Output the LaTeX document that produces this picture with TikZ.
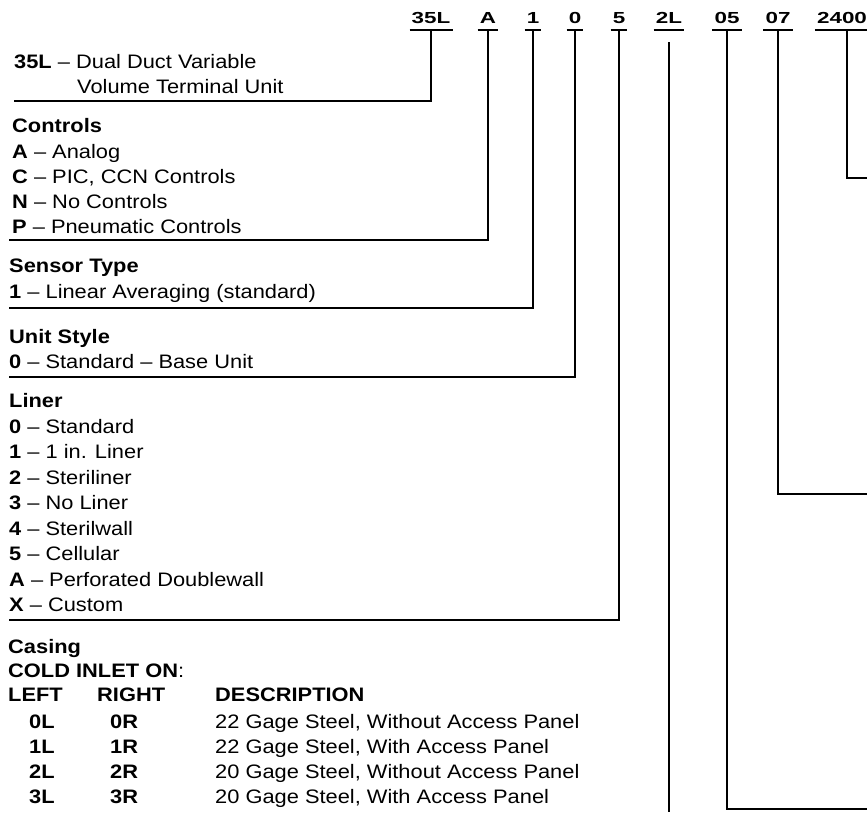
\documentclass[tikz,border=0pt]{standalone}
\usepackage{fontspec}
\setmainfont{Liberation Sans}[FakeStretch=1.12]
\newfontfamily\codefont{Liberation Sans}[FakeStretch=1.4]
\usetikzlibrary{calc,positioning}
\tikzset{
  code/.style={
    font=\codefont\fontsize{16}{18}\selectfont\bfseries,
    inner xsep=2pt,
    inner ysep=7pt,
    anchor=base
  },
  hd/.style={font=\fontsize{19.5}{25}\selectfont\bfseries, inner sep=0pt, anchor=base west},
  entry/.style={font=\fontsize{19.5}{25}\selectfont, inner sep=0pt, anchor=base west},
  leader/.style={draw=black, line width=2.2pt, line join=miter},
}
\newcommand{\CodeList}[5]{%
  \foreach \k/\t [count=\i from 0] in {#5} {
    \node[entry] (#1\i) at (#2,{#3+#4*\i}) {\textbf{\k} -- \t};
  }
}

\begin{document}
\begin{tikzpicture}[x=1pt,y=-1pt]
  \useasboundingbox (0,0) rectangle (867,812);
  % model number digits
  \foreach \t/\x in {35L/431,A/488,1/533,0/575,5/619,2L/669,05/727,07/778,2400/842} {
    \node[code] (c\t) at (\x,23) {\t};
    \draw[leader] (c\t.south west) -- (c\t.south east);
  }

  % 35L
  \node[entry] (unit) at (14,68) {\textbf{35L} -- Dual Duct Variable};
  \node[entry] (unit2) at (77,93) {Volume Terminal Unit};
  \coordinate (hlUnit) at (14,101);

  % controls
  \node[hd] (ctlT) at (12,132) {Controls};
  \CodeList{ctl}{12}{158}{25}{A/Analog,C/{PIC, CCN Controls},N/No Controls,P/Pneumatic Controls}
  \coordinate (hlCtl) at (9,240);

  % sensor
  \node[hd] (senT) at (9,272) {Sensor Type};
  \CodeList{sen}{9}{298}{25}{1/Linear Averaging (standard)}
  \coordinate (hlSen) at (9,308);

  % unit style
  \node[hd] (styT) at (9,343) {Unit Style};
  \CodeList{sty}{9}{368}{25}{0/Standard -- Base Unit}
  \coordinate (hlSty) at (9,377);

  % liner
  \node[hd] (linT) at (9,407) {Liner};
  \CodeList{lin}{9}{433}{25.5}{0/Standard,1/1 in. Liner,2/Steriliner,3/No Liner,4/Sterilwall,5/Cellular,A/Perforated Doublewall,X/Custom}
  \coordinate (hlLin) at (9,620);

  % casing
  \node[hd] (casT) at (8,653) {Casing};
  \node[hd] (casSub) at (8,677) {COLD INLET ON\textmd{:}};
  \node[hd] (casL) at (8,701) {LEFT};
  \node[hd] (casR) at (97,701) {RIGHT};
  \node[hd] (casD) at (215,701) {DESCRIPTION};
  \foreach \l/\r/\d [count=\i from 0] in {0L/0R/{22 Gage Steel, Without Access Panel},1L/1R/{22 Gage Steel, With Access Panel},2L/2R/{20 Gage Steel, Without Access Panel},3L/3R/{20 Gage Steel, With Access Panel}} {
    \node[hd] (cl\i) at (29,{728+25*\i}) {\l};
    \node[hd] (cr\i) at (110,{728+25*\i}) {\r};
    \node[entry] (cd\i) at (215,{728+25*\i}) {\d};
  }

  % leaders
  \coordinate (endCas) at (669,812);
  \coordinate (e05) at (867,809);
  \coordinate (e07) at (867,494);
  \coordinate (e2400) at (867,178);
  \draw[leader] (c35L.south) |- (hlUnit);
  \draw[leader] (cA.south) |- (hlCtl);
  \draw[leader] (c1.south) |- (hlSen);
  \draw[leader] (c0.south) |- (hlSty);
  \draw[leader] (c5.south) |- (hlLin);
  \draw[leader] ([yshift=-12pt]c2L.south) -- (endCas);
  \draw[leader] (c05.south) |- (e05);
  \draw[leader] (c07.south) |- (e07);
  \draw[leader] ([xshift=5pt]c2400.south) |- (e2400);
\end{tikzpicture}
\end{document}
